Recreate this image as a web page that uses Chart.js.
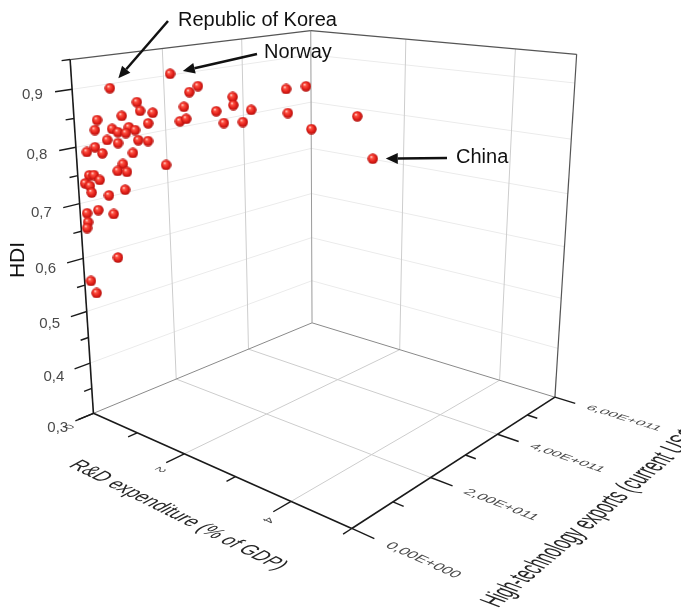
<!DOCTYPE html>
<html><head><meta charset="utf-8">
<script src="https://cdn.jsdelivr.net/npm/chart.js@4.4.0/dist/chart.umd.min.js"></script>
<style>
html,body{margin:0;padding:0;background:#fff;}
#chart{display:block;}
</style></head><body>
<canvas id="chart" width="681" height="614"></canvas>
<script>
// values (one entry per country)
const rdExpenditure = [0.36,0.59,0.62,0.73,0.45,0.23,0.69,0.21,0.36,0.41,0.51,0.57,0.48,0.31,0.41,0.59,0.68,0.20,0.12,0.26,
  0.54,0.44,0.84,0.90,1.07,1.15,1.02,0.98,1.04,1.32,1.47,1.48,1.39,1.57,1.65,1.98,2.17,2.00,2.24,2.69,
  2.87,0.39,0.48,0.13,0.17,0.22,0.09,0.13,0.14,0.30,0.45,0.19,0.08,0.33,0.09,0.07,0.35,0.07,0.12];
const hiTechExports = [4.4e10,7.7e10,8.0e10,9.6e10,5.7e10,2.6e10,8.9e10,2.2e10,4.4e10,5.1e10,6.5e10,7.2e10,6.1e10,3.7e10,5.0e10,7.6e10,8.8e10,2.1e10,1.1e10,3.0e10,
  6.8e10,5.5e10,1.09e11,1.20e11,1.43e11,1.54e11,1.35e11,1.29e11,1.37e11,1.75e11,1.97e11,1.97e11,1.84e11,2.08e11,2.19e11,2.64e11,2.89e11,2.65e11,2.93e11,3.51e11,
  3.68e11,4.8e10,5.9e10,1.2e10,1.8e10,2.5e10,6.0e9,1.2e10,1.4e10,3.5e10,5.6e10,2.1e10,7.0e9,4.0e10,7.0e9,6.0e9,4.2e10,7.0e9,1.3e10];
const hdi = [0.901,0.876,0.861,0.857,0.853,0.847,0.839,0.830,0.831,0.825,0.833,0.828,0.823,0.812,0.806,0.810,0.808,0.800,0.792,0.789,
  0.788,0.769,0.765,0.923,0.891,0.901,0.866,0.841,0.845,0.857,0.881,0.867,0.836,0.837,0.858,0.893,0.897,0.851,0.822,0.843,
  0.767,0.757,0.755,0.751,0.751,0.742,0.737,0.732,0.720,0.714,0.723,0.688,0.683,0.680,0.667,0.656,0.600,0.558,0.535];
const calloutNames = ['Republic of Korea', 'Norway', 'China'];
const calloutIndex = [0, 23, 40];

const rdRange = [0, 5], exRange = [0, 6e11], hdiRange = [0.3, 0.95];
const hdiTicks = [0.3, 0.4, 0.5, 0.6, 0.7, 0.8, 0.9];
const hdiTickLabels = ['0,3', '0,4', '0,5', '0,6', '0,7', '0,8', '0,9'];
const rdTicks = [0, 2, 4];
const rdTickLabels = ['0', '2', '4'];
const exTicks = [0, 2e11, 4e11, 6e11];
const exTickLabels = ['0,00E+000', '2,00E+011', '4,00E+011', '6,00E+011'];

// camera looking at the unit box (rd, exports, hdi)
const view = { yaw: -0.7033, elevation: 0.2882, distance: 3.0557, focal: 1107.44, cx: 327.94, cy: 239.11, box: [0.9456, 0.9448, 1] };
const FONT = '"Liberation Sans", Arial, sans-serif';

function project(rd, ex, h) {
    const px = ((rd - rdRange[0]) / (rdRange[1] - rdRange[0]) - 0.5) * view.box[0];
    const py = ((ex - exRange[0]) / (exRange[1] - exRange[0]) - 0.5) * view.box[1];
    const pz = ((h - hdiRange[0]) / (hdiRange[1] - hdiRange[0]) - 0.5) * view.box[2];
    const ca = Math.cos(view.yaw), sa = Math.sin(view.yaw), ce = Math.cos(view.elevation), se = Math.sin(view.elevation);
    const x1 = px * ca - py * sa, y1 = px * sa + py * ca;
    const s = view.focal / (view.distance + y1 * ce - pz * se);
    return { x: view.cx + x1 * s, y: view.cy - (pz * ce + y1 * se) * s, s };
}
// world-length steps along each data axis
const step = { rd: 0.01 / view.box[0] * (rdRange[1] - rdRange[0]), ex: 0.01 / view.box[1] * (exRange[1] - exRange[0]) };

function px(chart, rd, ex, h) {
    const p = project(rd, ex, h);
    return [chart.scales.x.getPixelForValue(p.x), chart.scales.y.getPixelForValue(p.y)];
}

function line(ctx, chart, a, b, color, width) {
    const p = px(chart, ...a), q = px(chart, ...b);
    ctx.strokeStyle = color; ctx.lineWidth = width;
    ctx.beginPath(); ctx.moveTo(p[0], p[1]); ctx.lineTo(q[0], q[1]); ctx.stroke();
}

// text lying in the floor plane: along / down are [drd, dex] directions
function planeText(ctx, chart, text, at, along, down, size, align, color, stretch = 1) {
    const o = px(chart, ...at);
    const a = px(chart, at[0] + along[0] * step.rd, at[1] + along[1] * step.ex, at[2]);
    const d = px(chart, at[0] + down[0] * step.rd, at[1] + down[1] * step.ex, at[2]);
    const n = Math.hypot(a[0] - o[0], a[1] - o[1]);
    ctx.save();
    ctx.setTransform((a[0] - o[0]) / n, (a[1] - o[1]) / n, (d[0] - o[0]) / n * stretch, (d[1] - o[1]) / n * stretch, o[0], o[1]);
    ctx.font = size + 'px ' + FONT; ctx.fillStyle = color; ctx.textAlign = align; ctx.textBaseline = 'middle';
    ctx.fillText(text, 0, 0);
    ctx.restore();
}

const frame = {
    id: 'frame',
    beforeDatasetsDraw(chart) {
        const ctx = chart.ctx, [r0, r1] = rdRange, [e0, e1] = exRange, [h0, h1] = hdiRange;
        ctx.save();
        ctx.lineCap = 'butt';
        for (let h = 0.4; h < 0.95; h += 0.1) {
            line(ctx, chart, [r0, e0, h], [r0, e1, h], '#ebebeb', 1);
            line(ctx, chart, [r0, e1, h], [r1, e1, h], '#ebebeb', 1);
        }
        for (const e of exTicks.slice(1, -1)) {
            line(ctx, chart, [r0, e, h0], [r0, e, h1], '#cdcdcd', 1);
            line(ctx, chart, [r0, e, h0], [r1, e, h0], '#cdcdcd', 1);
        }
        for (const r of rdTicks.slice(1)) {
            line(ctx, chart, [r, e1, h0], [r, e1, h1], '#cdcdcd', 1);
            line(ctx, chart, [r, e0, h0], [r, e1, h0], '#cdcdcd', 1);
        }
        line(ctx, chart, [r0, e0, h0], [r0, e1, h0], '#8a8a8a', 1);
        line(ctx, chart, [r0, e1, h0], [r1, e1, h0], '#8a8a8a', 1);
        line(ctx, chart, [r0, e1, h0], [r0, e1, h1], '#9a9a9a', 1);
        line(ctx, chart, [r0, e0, h1], [r0, e1, h1], '#555', 1.2);
        line(ctx, chart, [r0, e1, h1], [r1, e1, h1], '#555', 1.2);
        line(ctx, chart, [r1, e1, h0], [r1, e1, h1], '#555', 1.2);

        // axes
        const ink = '#1a1a1a';
        line(ctx, chart, [r0, e0, h0], [r0, e0, h1], ink, 1.6);
        line(ctx, chart, [r0, e0, h0], [r1, e0, h0], ink, 1.6);
        line(ctx, chart, [r1, e0, h0], [r1, e1, h0], ink, 1.6);
        for (let i = 0; i <= 13; i++) {
            const h = h0 + i * 0.05, len = i % 2 ? 0.17e11 : 0.34e11;
            line(ctx, chart, [r0, e0, h], [r0, e0 - len, h], ink, 1.4);
        }
        for (let r = r0; r <= r1; r++) line(ctx, chart, [r, e0, h0], [r, e0 - (r % 2 ? 0.2e11 : 0.4e11), h0], ink, 1.4);
        for (let e = 0; e <= 6; e++) line(ctx, chart, [r1, e * 1e11, h0], [r1 + (e % 2 ? 0.17 : 0.35), e * 1e11, h0], ink, 1.4);

        // tick labels
        ctx.font = '15px ' + FONT; ctx.fillStyle = '#4a4a4a'; ctx.textAlign = 'center'; ctx.textBaseline = 'middle';
        hdiTicks.forEach((h, i) => { const p = px(chart, r0, -0.78e11, h); ctx.fillText(hdiTickLabels[i], p[0], p[1]); });
        rdTicks.forEach((r, i) => planeText(ctx, chart, rdTickLabels[i], [r + 0.08, -0.62e11, h0], [0, -1], [-1, 0], 13, 'center', '#4a4a4a'));
        exTicks.forEach((e, i) => planeText(ctx, chart, exTickLabels[i], [r1 + 0.55, e, h0], [1, 0], [0, -1], 16, 'left', '#4a4a4a'));

        // axis titles
        ctx.save();
        ctx.translate(18, 260); ctx.rotate(-Math.PI / 2);
        ctx.font = '21px ' + FONT; ctx.fillStyle = '#111'; ctx.textAlign = 'center'; ctx.textBaseline = 'middle';
        ctx.fillText('HDI', 0, 0);
        ctx.restore();
        planeText(ctx, chart, 'R&D expenditure (% of GDP)', [3.15, -1.4e11, h0], [1, 0], [0, -1], 18, 'center', '#262626', 1.1);
        planeText(ctx, chart, 'High-technology exports (current US$)', [7.13, 2.6e11, h0], [0, 1], [1, 0], 16, 'center', '#262626', 1.2);
        ctx.restore();
    },
    afterDatasetsDraw(chart) {
        const ctx = chart.ctx;
        const textAt = [[178, 26], [264, 58], [456, 163]];
        const tailAt = [[168, 21], [257, 54], [447, 158]];
        ctx.save();
        ctx.font = '20px ' + FONT; ctx.fillStyle = '#111'; ctx.textAlign = 'left'; ctx.textBaseline = 'alphabetic';
        calloutIndex.forEach((k, i) => {
            ctx.fillText(calloutNames[i], textAt[i][0], textAt[i][1]);
            const p = px(chart, rdExpenditure[k], hiTechExports[k], hdi[k]);
            const [tx, ty] = tailAt[i], dx = tx - p[0], dy = ty - p[1], n = Math.hypot(dx, dy);
            const ux = dx / n, uy = dy / n, tip = [p[0] + ux * 13, p[1] + uy * 13];
            const base = [tip[0] + ux * 12, tip[1] + uy * 12];
            ctx.strokeStyle = '#111'; ctx.lineWidth = 2.5;
            ctx.beginPath(); ctx.moveTo(tx, ty); ctx.lineTo(base[0], base[1]); ctx.stroke();
            ctx.fillStyle = '#111';
            ctx.beginPath(); ctx.moveTo(tip[0], tip[1]);
            ctx.lineTo(base[0] - uy * 5.5, base[1] + ux * 5.5); ctx.lineTo(base[0] + uy * 5.5, base[1] - ux * 5.5);
            ctx.closePath(); ctx.fill();
        });
        ctx.restore();
    }
};

const sphere = document.createElement('canvas');
sphere.width = sphere.height = 11;
(() => {
    const g = sphere.getContext('2d');
    const grad = g.createRadialGradient(4, 3.6, 0.3, 5.5, 5.5, 5.8);
    grad.addColorStop(0, '#ffe2dc');
    grad.addColorStop(0.2, '#ff5646');
    grad.addColorStop(0.6, '#e3201a');
    grad.addColorStop(1, '#a50c08');
    g.fillStyle = grad;
    g.beginPath(); g.arc(5.5, 5.5, 5.2, 0, Math.PI * 2); g.fill();
})();

const order = hdi.map((_, i) => i).sort((a, b) => project(rdExpenditure[b], hiTechExports[b], hdi[b]).s - project(rdExpenditure[a], hiTechExports[a], hdi[a]).s);
const points = order.map((i) => { const p = project(rdExpenditure[i], hiTechExports[i], hdi[i]); return { x: p.x, y: p.y }; });

new Chart(document.getElementById('chart'), {
    type: 'scatter',
    data: { datasets: [{ label: 'Countries', data: points, pointStyle: sphere, pointRadius: 5.5, pointHoverRadius: 5.5 }] },
    options: {
        responsive: false, animation: false, devicePixelRatio: 1,
        layout: { padding: 0, autoPadding: false },
        plugins: { legend: { display: false }, tooltip: { enabled: false } },
        scales: {
            x: { type: 'linear', min: 0, max: 681, display: false },
            y: { type: 'linear', min: 0, max: 614, reverse: true, display: false }
        }
    },
    plugins: [frame]
});
</script></body></html>
